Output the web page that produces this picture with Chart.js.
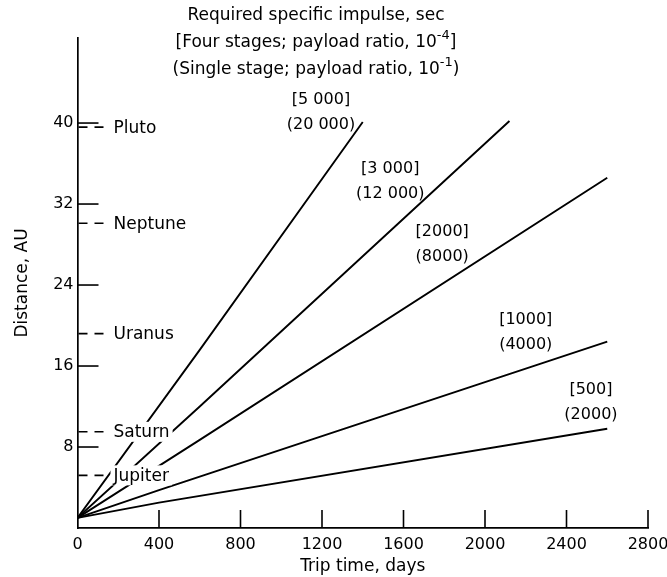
<!DOCTYPE html>
<html>
<head>
<meta charset="utf-8">
<script src="https://cdn.jsdelivr.net/npm/chart.js@4.4.0/dist/chart.umd.min.js"></script>
<style>
  html, body { margin: 0; padding: 0; background: #fff; }
  #wrap { width: 667px; height: 577px; }
</style>
</head>
<body>
<div id="wrap"><canvas id="ispChart"></canvas></div>
<script>
// curves: required specific impulse, four stage [..] and single stage (..)
const ispFourStage = ['[5 000]', '[3 000]', '[2000]', '[1000]', '[500]'];
const ispSingleStage = ['(20 000)', '(12 000)', '(8000)', '(4000)', '(2000)'];

// trip time (days) and distance (AU) along each curve
const tripDays = [
  [0, 600, 1400],
  [0, 600, 2120],
  [0, 600, 2600],
  [0, 400, 2600],
  [0, 400, 2600]
];
const distanceAU = [
  [1, 17.6, 40.1],
  [1, 12.0, 40.2],
  [1, 8.7, 34.6],
  [1, 3.75, 18.4],
  [1, 2.5, 9.8]
];

// planets marked on the distance axis
const planetNames = ['Pluto', 'Neptune', 'Uranus', 'Saturn', 'Jupiter'];
const planetAU = [39.6, 30.1, 19.2, 9.5, 5.2];

const xTicks = [0, 400, 800, 1200, 1600, 2000, 2400, 2800];
const yTicks = [8, 16, 24, 32, 40];

const titleLines = [
  ['Required specific impulse, sec', ''],
  ['[Four stages; payload ratio, 10', '-4', ']'],
  ['(Single stage; payload ratio, 10', '-1', ')']
];

// where the curve labels sit (days, AU) - just placement
const labelAt = [[1195, 42.3], [1535, 35.5], [1790, 29.3], [2200, 20.6], [2520, 13.6]];

const FONT = "'DejaVu Sans', sans-serif";

let datasets = [];
for (let i = 0; i < ispFourStage.length; i++) {
  let pts = tripDays[i].map((d, j) => ({ x: d, y: distanceAU[i][j] }));
  datasets.push({
    label: ispFourStage[i] + ' ' + ispSingleStage[i],
    data: pts,
    showLine: true,
    borderColor: '#000',
    borderWidth: 1.9,
    pointRadius: 0,
    fill: false
  });
}

const extras = {
  id: 'extras',
  afterDatasetsDraw(chart) {
    const ctx = chart.ctx, xs = chart.scales.x, ys = chart.scales.y;
    const area = chart.chartArea;
    ctx.save();
    ctx.strokeStyle = '#000';
    ctx.fillStyle = '#000';

    // inward tick marks
    ctx.lineWidth = 1.6;
    xTicks.forEach(v => {
      if (v === 0) return;
      let px = xs.getPixelForValue(v);
      ctx.beginPath(); ctx.moveTo(px, area.bottom); ctx.lineTo(px, area.bottom - 18); ctx.stroke();
    });
    yTicks.forEach(v => {
      let py = ys.getPixelForValue(v);
      ctx.beginPath(); ctx.moveTo(area.left, py); ctx.lineTo(area.left + 21, py); ctx.stroke();
    });

    // planets: dashed marks + labels on white
    ctx.font = '17px ' + FONT;
    ctx.textBaseline = 'middle';
    ctx.textAlign = 'left';
    planetNames.forEach((name, i) => {
      let py = ys.getPixelForValue(planetAU[i]);
      let w = ctx.measureText(name).width;
      ctx.fillStyle = '#fff';
      ctx.fillRect(area.left + 33, py - 10, w + 6, 20);
      ctx.fillStyle = '#000';
      ctx.setLineDash([9, 7]);
      ctx.lineWidth = 1.6;
      ctx.beginPath(); ctx.moveTo(area.left + 1, py); ctx.lineTo(area.left + 30, py); ctx.stroke();
      ctx.setLineDash([]);
      ctx.fillText(name, area.left + 36, py + 1);
    });

    // curve labels
    ctx.textAlign = 'center';
    ctx.font = '16px ' + FONT;
    labelAt.forEach((p, i) => {
      let px = xs.getPixelForValue(p[0]), py = ys.getPixelForValue(p[1]);
      ctx.fillText(ispFourStage[i], px, py);
      ctx.fillText(ispSingleStage[i], px, py + 25);
    });

    // heading with superscripts
    const cx = 316;
    const rows = [16, 43, 70];
    titleLines.forEach((parts, r) => {
      ctx.font = '17px ' + FONT;
      let w0 = ctx.measureText(parts[0]).width;
      ctx.font = '13px ' + FONT;
      let w1 = parts[1] ? ctx.measureText(parts[1]).width : 0;
      ctx.font = '17px ' + FONT;
      let w2 = parts[2] ? ctx.measureText(parts[2]).width : 0;
      let x = cx - (w0 + w1 + w2) / 2;
      ctx.textAlign = 'left';
      ctx.fillText(parts[0], x, rows[r]);
      if (parts[1]) {
        ctx.font = '13px ' + FONT;
        ctx.fillText(parts[1], x + w0, rows[r] - 7);
        ctx.font = '17px ' + FONT;
        ctx.fillText(parts[2], x + w0 + w1, rows[r]);
      }
    });
    ctx.restore();
  }
};

new Chart(document.getElementById('ispChart').getContext('2d'), {
  type: 'scatter',
  data: { datasets: datasets },
  plugins: [extras],
  options: {
    responsive: true,
    maintainAspectRatio: false,
    animation: false,
    layout: { padding: { top: 38, right: 19, left: 0, bottom: 0 } },
    plugins: { legend: { display: false }, tooltip: { enabled: false } },
    scales: {
      x: {
        type: 'linear', min: 0, max: 2800,
        afterBuildTicks: s => { s.ticks = xTicks.map(v => ({ value: v })); },
        afterFit: s => { s.height = 49; s.paddingLeft = 0; s.paddingRight = 0; },
        grid: { display: false, drawTicks: false },
        border: { display: true, color: '#000', width: 1.7 },
        ticks: { color: '#000', padding: 7, maxRotation: 0, autoSkip: false, callback: v => String(v), font: { family: FONT, size: 16 } },
        title: { display: true, text: 'Trip time, days', color: '#000', padding: { top: 0, bottom: 0 }, font: { family: FONT, size: 17 } }
      },
      y: {
        type: 'linear', min: 0, max: 48.4,
        afterBuildTicks: s => { s.ticks = yTicks.map(v => ({ value: v })); },
        afterFit: s => { s.width = 77.5; },
        grid: { display: false, drawTicks: false },
        border: { display: true, color: '#000', width: 1.7 },
        ticks: { color: '#000', padding: 4, autoSkip: false, callback: v => String(v), font: { family: FONT, size: 16 } },
        title: { display: true, text: 'Distance, AU', color: '#000', padding: { top: 12, bottom: 0 }, font: { family: FONT, size: 17 } }
      }
    }
  }
});
</script>
</body>
</html>
